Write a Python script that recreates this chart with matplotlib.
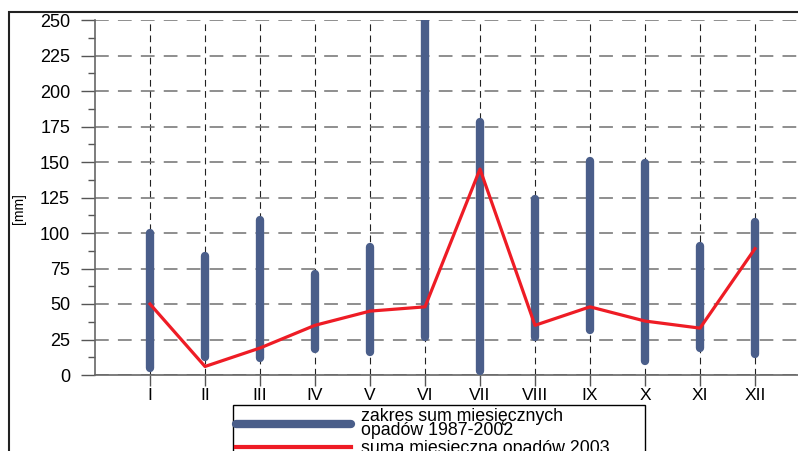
import matplotlib
matplotlib.use('Agg')
import matplotlib.pyplot as plt
from matplotlib.lines import Line2D
from matplotlib.ticker import MultipleLocator

plt.rcParams['font.family'] = ['Liberation Sans', 'DejaVu Sans']

#%% dane

months = ['I', 'II', 'III', 'IV', 'V', 'VI', 'VII', 'VIII', 'IX', 'X', 'XI', 'XII']
range_min = [5, 13, 12, 18, 16, 27, 3, 27, 32, 10, 19, 15]
range_max = [100, 84, 109, 71, 90, 250, 178, 124, 151, 149, 91, 108]
sum_2003 = [50, 6, 19, 35, 45, 48, 145, 35, 48, 38, 33, 89]

blue = '#4a5e8a'
red = '#ee1c25'

#%% wykres

W, H = 798, 451
fig = plt.figure(figsize=(W / 100, H / 100), dpi=100)

# ramka zewnetrzna (prawa i dolna krawedz poza obrazkiem)
fig.add_artist(plt.Rectangle((9 / W, -0.5), 1.5, 1 - 12 / H + 0.5,
                             transform=fig.transFigure, fill=False,
                             edgecolor='#222222', linewidth=1.5))

ax = fig.add_axes([95 / W, 76 / H, 715 / W, 355 / H])
x = list(range(1, len(months) + 1))

ax.vlines(x, range_min, range_max, color=blue, linewidth=6, capstyle='round', zorder=3)
ax.plot(x, sum_2003, color=red, linewidth=2.3, zorder=4)

ax.set_xlim(0, 13)
ax.set_ylim(0, 250)
ax.set_xticks(x)
ax.set_xticklabels(months, fontsize=12.5)
ax.yaxis.set_major_locator(MultipleLocator(25))
ax.yaxis.set_minor_locator(MultipleLocator(12.5))
ax.tick_params(axis='y', which='major', length=10, width=1, color='#555555',
               labelsize=13, pad=8)
ax.tick_params(axis='y', which='minor', length=5, width=1, color='#555555')
ax.tick_params(axis='x', length=8, width=1, color='#555555', pad=1.5)

for s in ('top', 'right'):
    ax.spines[s].set_visible(False)
for s in ('left', 'bottom'):
    ax.spines[s].set_color('#666666')
    ax.spines[s].set_linewidth(1.2)

ax.grid(axis='y', which='major', color='#707070', linewidth=1.1,
        linestyle=(0, (9, 6)), zorder=1)
ax.grid(axis='x', color='#222222', linewidth=0.8, linestyle=(0, (6, 4)), zorder=1)
ax.set_axisbelow(True)

fig.text(19 / W, 1 - 209 / H, '[mm]', rotation=90, fontsize=10,
         ha='center', va='center')

# legenda bez wlasnej ramki, ramka szersza rysowana osobno
handles = [Line2D([], [], color=blue, linewidth=6, solid_capstyle='round'),
           Line2D([], [], color=red, linewidth=3)]
labels = ['zakres sum miesięcznych\nopadów 1987-2002', 'suma miesięczna opadów 2003']
leg = fig.legend(handles, labels, loc='upper left',
                 bbox_to_anchor=(233 / W, 1 - 405 / H), borderaxespad=0,
                 fontsize=12.8, handlelength=6.5, handletextpad=0.55,
                 labelspacing=0.05, borderpad=0.15, frameon=False)
for t in leg.get_texts():
    t.set_linespacing(0.8)
fig.add_artist(plt.Rectangle((233 / W, -0.2), 412 / W, 0.2 + 1 - 405 / H,
                             transform=fig.transFigure, fill=False,
                             edgecolor='black', linewidth=1.0))

fig.savefig('out.png', dpi=100)
